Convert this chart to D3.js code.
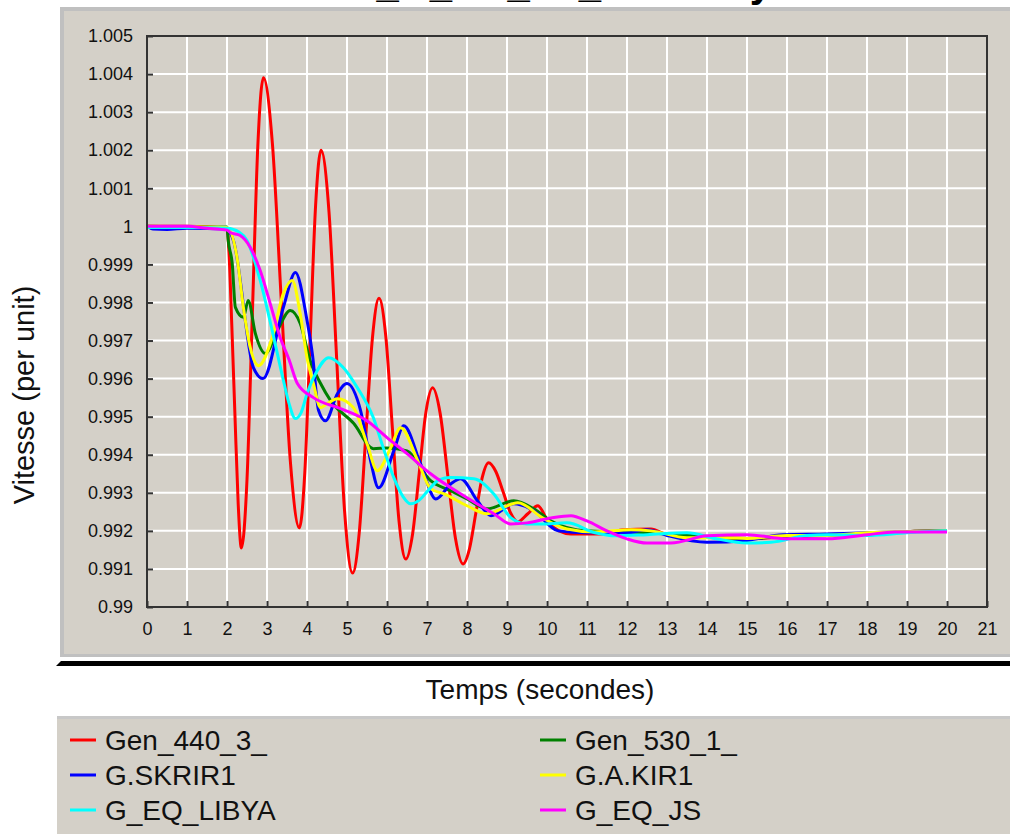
<!DOCTYPE html>
<html>
<head>
<meta charset="utf-8">
<script src="https://cdn.jsdelivr.net/npm/d3@7"></script>
<style>
  body { margin: 0; background: #fff; }
  text { font-family: "Liberation Sans", Arial, sans-serif; }
</style>
</head>
<body>
<div id="chart"></div>
<script>
// temps (s) et vitesse (pu)
const gen440 = [
  [0, 1.0], [1, 1.0], [2.0, 0.99995], [2.05, 0.9993], [2.12, 0.9974], [2.2, 0.995], [2.28, 0.9927], [2.36, 0.99155],
  [2.5, 0.99335], [2.635, 0.99773], [2.77, 1.0021], [2.91, 1.0039],
  [3.135, 1.00217], [3.36, 0.99799], [3.585, 0.99381], [3.81, 0.99208],
  [3.945, 0.99353], [4.08, 0.99704], [4.215, 1.00055], [4.35, 1.002],
  [4.55, 1.00038], [4.745, 0.99645], [4.94, 0.99251], [5.14, 0.99089],
  [5.305, 0.99194], [5.47, 0.9945], [5.635, 0.99706], [5.8, 0.99811],
  [5.97, 0.99711], [6.135, 0.99469], [6.3, 0.99226], [6.47, 0.99126],
  [6.64, 0.99192], [6.805, 0.99351], [6.97, 0.9951], [7.14, 0.99576],
  [7.33, 0.99508], [7.52, 0.99345], [7.71, 0.99181], [7.9, 0.99113],
  [8.06, 0.99152], [8.22, 0.99246], [8.38, 0.9934], [8.54, 0.99379],
  [8.72, 0.99356], [8.905, 0.99302], [9.09, 0.99247], [9.27, 0.99224],
  [9.52, 0.99245], [9.77, 0.99266], [10.05, 0.9922], [10.3, 0.992], [10.6, 0.99192],
  [11.5, 0.99192], [11.9, 0.99203], [12.6, 0.99205], [13.0, 0.9919], [14, 0.99183],
  [15, 0.9918], [16, 0.99183], [17, 0.99188], [18, 0.99192], [19, 0.99198], [20, 0.992]
];
const gen530 = [
  [0, 1.0], [1, 0.99998], [2.0, 0.99998], [2.03, 0.99963], [2.13, 0.99903], [2.21, 0.99787], [2.41, 0.99761],
  [2.53, 0.99805], [2.71, 0.99718], [2.96, 0.99666], [3.26, 0.99726], [3.58, 0.99779], [3.83, 0.99745],
  [4.08, 0.99647], [4.34, 0.99587], [4.59, 0.99542], [5.17, 0.99482], [5.66, 0.99416], [6.0, 0.99418],
  [6.5, 0.9941], [7.09, 0.99332], [7.6, 0.99305], [8.0, 0.99284], [8.5, 0.99258], [9.17, 0.99279],
  [9.67, 0.99258], [10.1, 0.99226], [11, 0.992], [12, 0.99197], [12.5, 0.99195], [13, 0.99192],
  [14, 0.99185], [15, 0.9918], [16, 0.99185], [17, 0.9919], [18, 0.99193], [19, 0.99198], [20, 0.992]
];
const skrir1 = [
  [0, 1.0], [0.15, 0.99993], [0.5, 0.99992], [1.0, 0.99995], [2.0, 0.99993], [2.16, 0.99963],
  [2.66, 0.99629], [2.9, 0.996], [3.41, 0.99787], [3.71, 0.99879], [4.0, 0.99753], [4.14, 0.9966],
  [4.29, 0.99516], [4.46, 0.99489], [4.76, 0.9956], [5.0, 0.99587], [5.34, 0.99516], [5.59, 0.99384],
  [5.79, 0.99313], [6.17, 0.9941], [6.42, 0.99476], [6.84, 0.99376], [7.22, 0.99284], [7.6, 0.99324],
  [7.84, 0.99337], [8.26, 0.99279], [8.6, 0.9924], [9.17, 0.99271], [9.67, 0.99253], [10.28, 0.992],
  [11.0, 0.99195], [12, 0.99195], [12.5, 0.99203], [13, 0.99188], [14, 0.9917], [15, 0.99175],
  [15.9, 0.9919], [17, 0.99192], [18, 0.99195], [19, 0.99198], [20, 0.992]
];
const akir1 = [
  [0, 1.0], [2.0, 0.99997], [2.25, 0.99918], [2.41, 0.99787], [2.58, 0.99682], [2.79, 0.99634],
  [3.13, 0.99708], [3.41, 0.99824], [3.63, 0.99858], [3.83, 0.99771], [4.0, 0.99655], [4.16, 0.99587],
  [4.34, 0.99524], [4.5, 0.99534], [4.76, 0.99547], [5.16, 0.99524], [5.5, 0.99429], [5.76, 0.99358],
  [6.09, 0.99418], [6.34, 0.99471], [6.77, 0.99384], [7.09, 0.99311], [7.43, 0.99297], [8.0, 0.99266],
  [8.5, 0.99245], [9.27, 0.99274], [9.92, 0.99232], [10.5, 0.99205], [11.2, 0.99197], [12.1, 0.99203],
  [12.6, 0.992], [13.5, 0.99182], [14.5, 0.99182], [15, 0.9918], [16, 0.99188], [17, 0.99188],
  [18, 0.99195], [19, 0.99198], [20, 0.992]
];
const eqLibya = [
  [0, 0.99997], [1, 0.99997], [2.0, 0.99995], [2.3, 0.99985], [2.5, 0.99963], [2.83, 0.99858],
  [3.13, 0.99726], [3.4, 0.996], [3.55, 0.99535], [3.71, 0.99495], [3.85, 0.9951], [4.0, 0.9956],
  [4.25, 0.9962], [4.54, 0.99655], [4.9, 0.9963], [5.26, 0.99576], [5.66, 0.99497], [5.9, 0.9942],
  [6.17, 0.9934], [6.4, 0.9929], [6.59, 0.99271], [6.8, 0.9928], [7.02, 0.99305], [7.3, 0.99334],
  [7.59, 0.9934], [8.17, 0.99337], [8.67, 0.99297], [9.1, 0.99234], [9.5, 0.99218], [9.85, 0.99218],
  [10.5, 0.99221], [11.2, 0.99195], [11.7, 0.99187], [12.5, 0.9919], [13.5, 0.99195], [14.2, 0.9918],
  [15, 0.99168], [15.6, 0.9917], [16.5, 0.99188], [17, 0.9919], [18, 0.99188], [19, 0.99195], [20, 0.992]
];
const eqJs = [
  [0, 1.0], [1, 1.0], [1.5, 0.99995], [2.0, 0.9999], [2.08, 0.99984], [2.33, 0.99976], [2.58, 0.99945],
  [2.83, 0.99884], [3.08, 0.99797], [3.33, 0.99708], [3.55, 0.9965], [3.76, 0.99587], [4.16, 0.9955],
  [4.84, 0.99521], [5.5, 0.99489], [6.0, 0.99445], [6.5, 0.99403], [7.09, 0.9935], [8.0, 0.99287],
  [8.67, 0.99245], [9.1, 0.99218], [9.5, 0.99221], [10.1, 0.99234], [10.6, 0.9924], [11.0, 0.99226],
  [11.5, 0.992], [12.0, 0.99179], [12.5, 0.99168], [13.1, 0.99168], [14.0, 0.99187], [15, 0.9919],
  [16, 0.99179], [17, 0.99179], [18, 0.9919], [18.7, 0.99197], [20, 0.99197]
];

const seriesNames = ["Gen_440_3_", "Gen_530_1_", "G.SKRIR1", "G.A.KIR1", "G_EQ_LIBYA", "G_EQ_JS"];
const seriesColors = ["#ff0000", "#008000", "#0000ff", "#ffff00", "#00ffff", "#ff00ff"];
const seriesData = [gen440, gen530, skrir1, akir1, eqLibya, eqJs];
const xTicks = d3.range(0, 22);
const yTicks = d3.range(0, 16).map(i => 0.99 + i * 0.001);

const width = 1010, height = 834;
const panelColor = "#d4d0c8";

const svg = d3.select('#chart').append('svg')
  .attr('width', width)
  .attr('height', height)
  .style('display', 'block');

// titre (coupé en haut de l'image)
svg.append('text')
  .attr('x', 237).attr('y', -3)
  .style('font-size', '40px').style('font-weight', 'bold')
  .attr('fill', '#000')
  .text('Vitesse_G_EN_JS_Gen Libya');

// panneau gris
svg.append('rect').attr('x', 60).attr('y', 7).attr('width', 950).attr('height', 650).attr('fill', panelColor);
svg.append('rect').attr('x', 60).attr('y', 7).attr('width', 950).attr('height', 4).attr('fill', '#c0c0c0');
svg.append('rect').attr('x', 60).attr('y', 7).attr('width', 4).attr('height', 650).attr('fill', '#c0c0c0');
svg.append('rect').attr('x', 60).attr('y', 654).attr('width', 950).attr('height', 3).attr('fill', '#c0c0c0');
svg.append('polygon').attr('points', '61,661 1010,661 1010,666 56,666').attr('fill', '#000');

const x = d3.scaleLinear().domain([0, 21]).range([147, 987]);
const y = d3.scaleLinear().domain([0.99, 1.005]).range([607, 36]);

// grille
const grid = svg.append('g');
grid.selectAll('line.v').data(xTicks.filter(d => d > 0 && d < 21)).enter().append('line')
  .attr('x1', d => x(d)).attr('x2', d => x(d)).attr('y1', y(1.005)).attr('y2', y(0.99))
  .attr('stroke', '#fff').attr('stroke-width', 2);
grid.selectAll('line.h').data(yTicks.slice(1, -1)).enter().append('line')
  .attr('x1', x(0)).attr('x2', x(21)).attr('y1', d => y(d)).attr('y2', d => y(d))
  .attr('stroke', '#fff').attr('stroke-width', 2);

// axes
const fmtY = d => String(+d.toFixed(3));
const xAxis = svg.append('g').attr('transform', `translate(0,${y(0.99)})`)
  .call(d3.axisBottom(x).tickValues(xTicks).tickSize(-6).tickPadding(15).tickFormat(d3.format('d')));
const yAxis = svg.append('g').attr('transform', `translate(${x(0)},0)`)
  .call(d3.axisLeft(y).tickValues(yTicks).tickSize(-6).tickPadding(14).tickFormat(fmtY));
[xAxis, yAxis].forEach(a => {
  a.select('.domain').remove();
  a.selectAll('.tick line').attr('stroke', '#333').attr('stroke-width', 2);
  a.selectAll('.tick text').style('font-size', '18px').style('font-family', '"Liberation Sans", Arial, sans-serif').attr('fill', '#111');
});

// courbes
const line = d3.line()
  .x(d => x(d[0]))
  .y(d => y(d[1]))
  .curve(d3.curveMonotoneX);

svg.append('g')
  .selectAll('path')
  .data(seriesData)
  .enter().append('path')
  .attr('d', line)
  .attr('fill', 'none')
  .attr('stroke', (d, i) => seriesColors[i])
  .attr('stroke-width', 3)
  .attr('stroke-linejoin', 'round');

// cadre
svg.append('rect')
  .attr('x', x(0)).attr('y', y(1.005))
  .attr('width', x(21) - x(0)).attr('height', y(0.99) - y(1.005))
  .attr('fill', 'none').attr('stroke', '#333').attr('stroke-width', 2);

// titres des axes
svg.append('text')
  .attr('transform', 'translate(34,395) rotate(-90)')
  .attr('text-anchor', 'middle')
  .style('font-size', '29px')
  .attr('fill', '#111')
  .text('Vitesse (per unit)');

svg.append('text')
  .attr('x', 540).attr('y', 699)
  .attr('text-anchor', 'middle')
  .style('font-size', '28px')
  .attr('fill', '#111')
  .text('Temps (secondes)');

// légende
svg.append('rect').attr('x', 57).attr('y', 716).attr('width', 953).attr('height', 118).attr('fill', panelColor);
svg.append('rect').attr('x', 57).attr('y', 716).attr('width', 953).attr('height', 3).attr('fill', '#c8c8c8');

const legend = svg.append('g')
  .selectAll('g')
  .data(seriesNames)
  .enter().append('g')
  .attr('transform', (d, i) => `translate(${i % 2 === 0 ? 70 : 540},${740 + Math.floor(i / 2) * 35})`);

legend.append('line')
  .attr('x1', 0).attr('x2', 26).attr('y1', 0).attr('y2', 0)
  .attr('stroke', (d, i) => seriesColors[i])
  .attr('stroke-width', 3);

legend.append('text')
  .attr('x', 35).attr('y', 10)
  .style('font-size', '28px')
  .attr('fill', '#111')
  .text(d => d);
</script>
</body>
</html>
